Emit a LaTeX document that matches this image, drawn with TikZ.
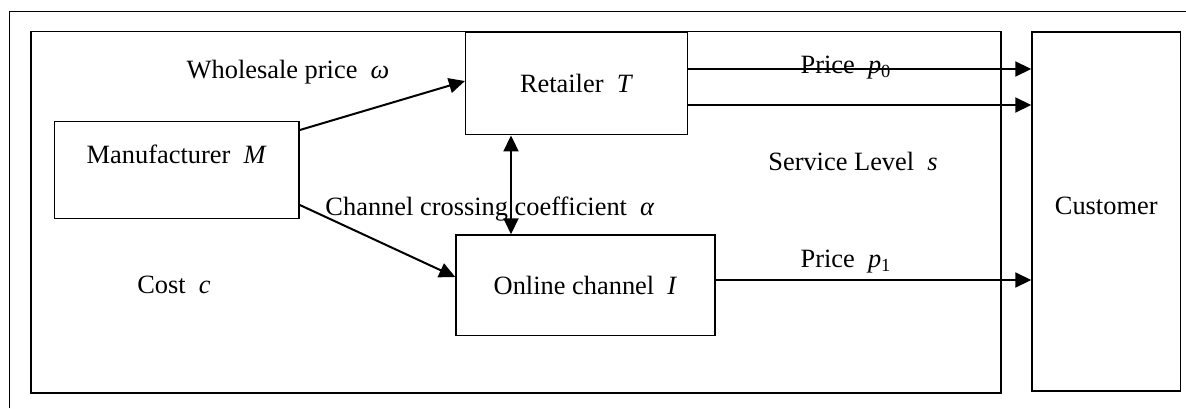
\documentclass[tikz,border=0pt]{standalone}
\usepackage{fontspec}
\setmainfont{Liberation Serif}
\usepackage{tikz}
\usetikzlibrary{arrows.meta}

\newcommand{\pvar}[1]{\textit{p}\textsubscript{#1}}

\begin{document}
\begin{tikzpicture}[x=0.5pt,y=-0.5pt,
  box/.style={draw,line width=0.75pt,inner sep=0pt},
  arr/.style={line width=1pt,-{Triangle[length=8pt,width=7.5pt]}},
  darr/.style={line width=1pt,{Triangle[length=8pt,width=7.5pt]}-{Triangle[length=8pt,width=7.5pt]}}]
\fontsize{13.2}{15}\selectfont
\useasboundingbox (0,0) rectangle (1186,408);
% frames
\draw[line width=0.6pt] (9.3,408) -- (9.3,11.3) -- (1186,11.3);
\draw[line width=0.75pt] (433,31.7) -- (1001,31.7) -- (1001,393) -- (31,393) -- (31,31.7) -- (166,31.7);
\draw[line width=0.4pt] (166,31.7) -- (433,31.7);
% players
\node[box,minimum width=122.4pt,minimum height=48.4pt,text height=9pt,text depth=15pt] (man) at (176.7,169.9) {Manufacturer\ \ \textit{M}};
\node[box,minimum width=110.8pt,minimum height=51pt] (ret) at (576.5,83.7) {Retailer\ \ \textit{T}};
\node[box,minimum width=129.5pt,minimum height=50.2pt] (onl) at (585.5,285.2) {Online channel\ \ \textit{I}};
\node[box,minimum width=74.2pt,minimum height=179.4pt,text height=9pt,text depth=6pt] (cus) at (1106.2,211.4) {Customer};
% labels
\node (wp) at (288,72) {Wholesale price\ \ \textit{ω}};
\node (cc) at (490,209) {Channel crossing coefficient\ \ \textit{α}};
\node (p0) at (846,68) {Price\ \ \pvar{0}};
\node (sl) at (853,161) {Service Level\ \ \textit{s}};
\node (p1) at (846,262) {Price\ \ \pvar{1}};
\node (cost) at (174,285) {Cost\ \ \textit{c}};
% flows
\draw[arr] (man.east |- 0,130) -- (ret.west |- 0,81);
\draw[arr] (man.east |- 0,205) -- (onl.west |- 0,277);
\draw[darr] (ret.south -| 511,0) -- (onl.north -| 511,0);
\draw[arr] (ret.east |- 0,69) -- (cus.west |- 0,69);
\draw[arr] (ret.east |- 0,105) -- (cus.west |- 0,105);
\draw[arr] (onl.east |- 0,280) -- (cus.west |- 0,280);
\end{tikzpicture}
\end{document}
